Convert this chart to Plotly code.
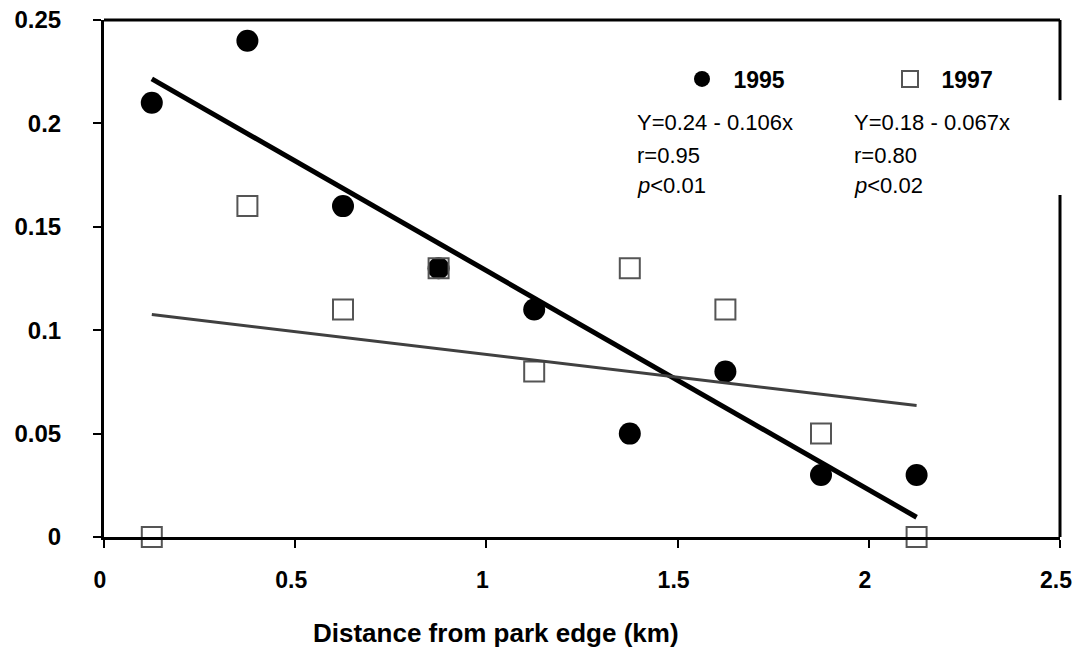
import numpy as np
import plotly.graph_objects as go

# ---- data ----
distance_km = [0.125, 0.375, 0.625, 0.875, 1.125, 1.375, 1.625, 1.875, 2.125]
y_1995 = [0.21, 0.24, 0.16, 0.13, 0.11, 0.05, 0.08, 0.03, 0.03]
y_1997 = [0.0, 0.16, 0.11, 0.13, 0.08, 0.13, 0.11, 0.05, 0.0]
x_ticks = [0, 0.5, 1, 1.5, 2, 2.5]
x_tick_labels = ["0", "0.5", "1", "1.5", "2", "2.5"]
y_ticks = [0, 0.05, 0.1, 0.15, 0.2, 0.25]
y_tick_labels = ["0", "0.05", "0.1", "0.15", "0.2", "0.25"]
stats_1995 = ["Y=0.24 - 0.106x", "r=0.95", "<i>p</i>&lt;0.01"]
stats_1997 = ["Y=0.18 - 0.067x", "r=0.80", "<i>p</i>&lt;0.02"]

FONT = "Liberation Sans, Arial, sans-serif"

# linear trend lines (least-squares fit of each series)
xs = np.array(distance_km)
b95 = np.polyfit(xs, np.array(y_1995), 1)
b97 = np.polyfit(xs, np.array(y_1997), 1)
x_line = [distance_km[0], distance_km[-1]]
line95 = list(np.polyval(b95, x_line))
line97 = list(np.polyval(b97, x_line))

fig = go.Figure()
fig.add_trace(go.Scatter(
    x=distance_km, y=y_1995, mode="markers", name="\u20021995", legend="legend",
    marker=dict(symbol="circle", size=22, color="black", line=dict(width=0)),
    cliponaxis=False))
fig.add_trace(go.Scatter(
    x=distance_km, y=y_1997, mode="markers", name="\u20021997", legend="legend2",
    marker=dict(symbol="square-open", size=20, color="#555555",
                line=dict(width=2, color="#555555")),
    cliponaxis=False))
fig.add_trace(go.Scatter(
    x=x_line, y=line95, mode="lines", showlegend=False,
    line=dict(color="black", width=5)))
fig.add_trace(go.Scatter(
    x=x_line, y=line97, mode="lines", showlegend=False,
    line=dict(color="#404040", width=3)))

annotations = []
line_y = [0.2002, 0.1847, 0.1702]
for txt, yy in zip(stats_1995, line_y):
    annotations.append(dict(x=1.389, y=yy, xref="x", yref="y", text=txt,
                            showarrow=False, xanchor="left", yanchor="middle",
                            font=dict(family=FONT, size=22, color="black")))
for txt, yy in zip(stats_1997, line_y):
    annotations.append(dict(x=1.956, y=yy, xref="x", yref="y", text=txt,
                            showarrow=False, xanchor="left", yanchor="middle",
                            font=dict(family=FONT, size=22, color="black")))
annotations.append(dict(x=0.41, y=-0.186, xref="paper", yref="paper",
                        text="Distance from park edge (km)", showarrow=False,
                        xanchor="center", yanchor="middle",
                        font=dict(family=FONT, size=26, color="black", weight="bold")))

shapes = [
    dict(type="line", xref="paper", yref="paper", x0=0, x1=1, y0=1, y1=1,
         line=dict(color="black", width=3)),
    dict(type="line", xref="paper", yref="paper", x0=1, x1=1, y0=0, y1=0.6615,
         line=dict(color="black", width=3)),
    dict(type="line", xref="paper", yref="paper", x0=1, x1=1, y0=0.845, y1=1,
         line=dict(color="black", width=3)),
]

legend_font = dict(family=FONT, size=23, color="black", weight="bold")
fig.update_layout(
    width=1073, height=655,
    margin=dict(l=104, r=13, t=20, b=118),
    paper_bgcolor="white", plot_bgcolor="white",
    font=dict(family=FONT, color="black"),
    annotations=annotations, shapes=shapes,
    legend=dict(orientation="h", x=0.6046, y=0.886, xanchor="left", yanchor="middle",
                bgcolor="rgba(0,0,0,0)", itemsizing="trace", font=legend_font),
    legend2=dict(orientation="h", x=0.8222, y=0.886, xanchor="left", yanchor="middle",
                 bgcolor="rgba(0,0,0,0)", itemsizing="trace", font=legend_font),
    xaxis=dict(range=[0, 2.5], tickvals=x_ticks, ticktext=x_tick_labels,
               automargin=False,
               showgrid=False, zeroline=False, showline=True, linecolor="black",
               linewidth=3, ticks="outside", ticklen=8, tickwidth=2, tickcolor="black",
               ticklabelstandoff=12, ticklabeloverflow="allow", ticklabelshift=-4,
               tickfont=dict(family=FONT, size=23, color="black", weight="bold")),
    yaxis=dict(range=[0, 0.25], tickvals=y_ticks, ticktext=y_tick_labels,
               automargin=False,
               showgrid=False, zeroline=False, showline=True, linecolor="black",
               linewidth=3, ticks="outside", ticklen=8, tickwidth=2, tickcolor="black",
               ticklabelstandoff=27,
               tickfont=dict(family=FONT, size=24, color="black", weight="bold")),
)

fig.write_html("out.html")
